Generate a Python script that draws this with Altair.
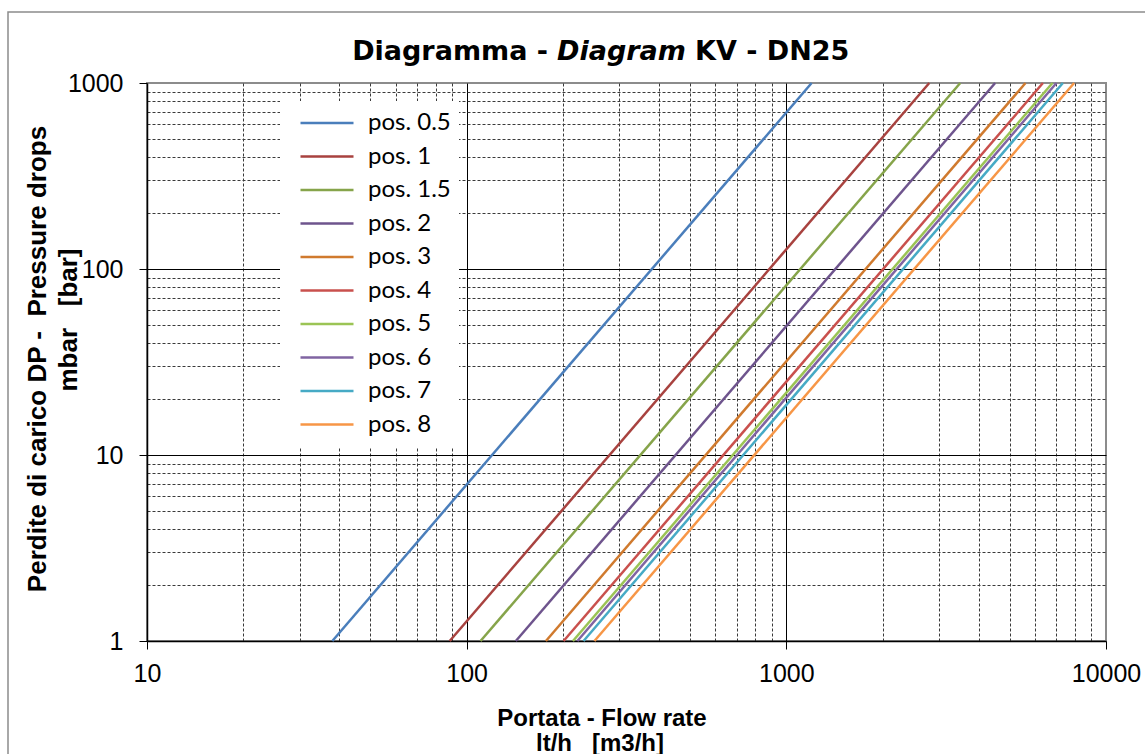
import altair as alt
import pandas as pd

# ---- data ----
positions = ["pos. 0.5", "pos. 1", "pos. 1.5", "pos. 2", "pos. 3",
             "pos. 4", "pos. 5", "pos. 6", "pos. 7", "pos. 8"]
# flow rate (lt/h) where each line meets DP = 1 mbar and DP = 1000 mbar
flow_at_1_mbar = [38, 88.5, 110.5, 142.5, 177, 201, 215, 222, 232, 251]
flow_at_1000_mbar = [1200, 2800, 3500, 4500, 5600, 6350, 6800, 7000, 7330, 7950]
pressure_ends = [1, 1000]
colors = ["#4A7EBB", "#A8423F", "#86A44A", "#6E548D", "#D07A2E",
          "#C9504D", "#9BC455", "#8064A2", "#46AAC5", "#F79646"]

x_ticks = [10, 20, 30, 40, 50, 60, 70, 80, 90,
           100, 200, 300, 400, 500, 600, 700, 800, 900,
           1000, 2000, 3000, 4000, 5000, 6000, 7000, 8000, 9000, 10000]
y_ticks = [1, 2, 3, 4, 5, 6, 7, 8, 9,
           10, 20, 30, 40, 50, 60, 70, 80, 90,
           100, 200, 300, 400, 500, 600, 700, 800, 900, 1000]

title_parts = ["Diagramma -", "Diagram", "KV - DN25"]
x_title = ["Portata - Flow rate", "lt/h\u00a0\u00a0 [m3/h]"]
y_title = ["Perdite di carico DP -\u00a0 Pressure drops", "mbar\u00a0\u00a0 [bar]"]

rows = []
for p, q1, q2 in zip(positions, flow_at_1_mbar, flow_at_1000_mbar):
    rows.append({"pos": p, "flow": q1, "dp": pressure_ends[0], "k": 0})
    rows.append({"pos": p, "flow": q2, "dp": pressure_ends[1], "k": 1})
df = pd.DataFrame(rows)

W, H = 959, 558
PL, PT = 147, 83

x_major = "datum.value == 10 || datum.value == 100 || datum.value == 1000 || datum.value == 10000"
y_major = "datum.value == 1 || datum.value == 10 || datum.value == 100 || datum.value == 1000"
x_edges = "datum.value == 10 || datum.value == 10000"
y_edges = "datum.value == 1 || datum.value == 1000"


def axis(major, edges, **kw):
    return alt.Axis(
        labelExpr=f"({major}) ? datum.label : ''",
        format="d",
        grid=True,
        gridColor={"condition": {"test": major, "value": "#000000"}, "value": "#3a3a3a"},
        gridDash={"condition": {"test": major, "value": []}, "value": [3, 2]},
        gridOpacity={"condition": {"test": edges, "value": 0}, "value": 1},
        gridWidth=1,
        tickSize={"condition": {"test": major, "value": 8}, "value": 0},
        tickColor="#000000",
        tickWidth=1,
        domainColor="#000000",
        domainWidth=1.5,
        labelFont="Liberation Sans",
        labelFontSize=25,
        labelColor="#000000",
        labelFlush=False,
        labelOverlap=False,
        title=None,
        **kw,
    )


lines = alt.Chart(df).mark_line(strokeWidth=2.5).encode(
    x=alt.X("flow:Q", scale=alt.Scale(type="log", domain=[10, 10000]),
            axis=axis(x_major, x_edges, values=x_ticks, labelPadding=12)),
    y=alt.Y("dp:Q", scale=alt.Scale(type="log", domain=[1, 1000]),
            axis=axis(y_major, y_edges, values=y_ticks, labelPadding=16)),
    color=alt.Color("pos:N", scale=alt.Scale(domain=positions, range=colors),
                    legend=alt.Legend(orient="none", legendX=133, legendY=18, title=None,
                                      symbolType="stroke", symbolSize=2809,
                                      symbolStrokeWidth=2.5, symbolOffset=11,
                                      labelFont="Lato", labelFontSize=24,
                                      labelColor="#000000", labelOffset=13,
                                      labelLimit=0, clipHeight=28,
                                      fillColor="white", padding=8, rowPadding=5.5)),
    order="k:Q",
)

one = pd.DataFrame({"d": [0]})

frame = alt.Chart(one).mark_rect(fill=None, stroke="#8c8c8c", strokeWidth=1.5).encode(
    x=alt.value(8 - PL), x2=alt.value(1200), y=alt.value(12 - PT), y2=alt.value(800))


def label(text, x, y, font="Liberation Sans", size=26, style="normal", angle=0,
          align="center", baseline="alphabetic"):
    return alt.Chart(one).mark_text(
        text=text, font=font, fontSize=size, fontWeight="bold", fontStyle=style,
        angle=angle, align=align, baseline=baseline, color="#000000"
    ).encode(x=alt.value(x), y=alt.value(y))


TF = "DejaVu Sans"
title_layers = [
    label(title_parts[0], 548 - PL, 60 - PT, font=TF, size=27, align="right"),
    label(title_parts[1], 557 - PL, 60 - PT, font=TF, size=27, style="italic", align="left"),
    label(title_parts[2], 695 - PL, 60 - PT, font=TF, size=27, align="left"),
    label(x_title[0], 602 - PL, 726 - PT, size=24),
    label(x_title[1], 600 - PL, 751 - PT, size=24),
    label(y_title[0], 38 - PL, 359 - PT, angle=270, baseline="middle"),
    label(y_title[1], 69 - PL, 320 - PT, angle=270, baseline="middle"),
]

chart = alt.layer(frame, lines, *title_layers).properties(
    width=W, height=H,
    autosize=alt.AutoSizeParams(type="none"),
    padding={"left": PL, "top": PT, "right": 1145 - PL - W, "bottom": 754 - PT - H},
    background="white",
).configure_view(stroke="#8c8c8c", strokeWidth=2)

chart.save("out.html", embed_options={"renderer": "svg", "actions": False})
